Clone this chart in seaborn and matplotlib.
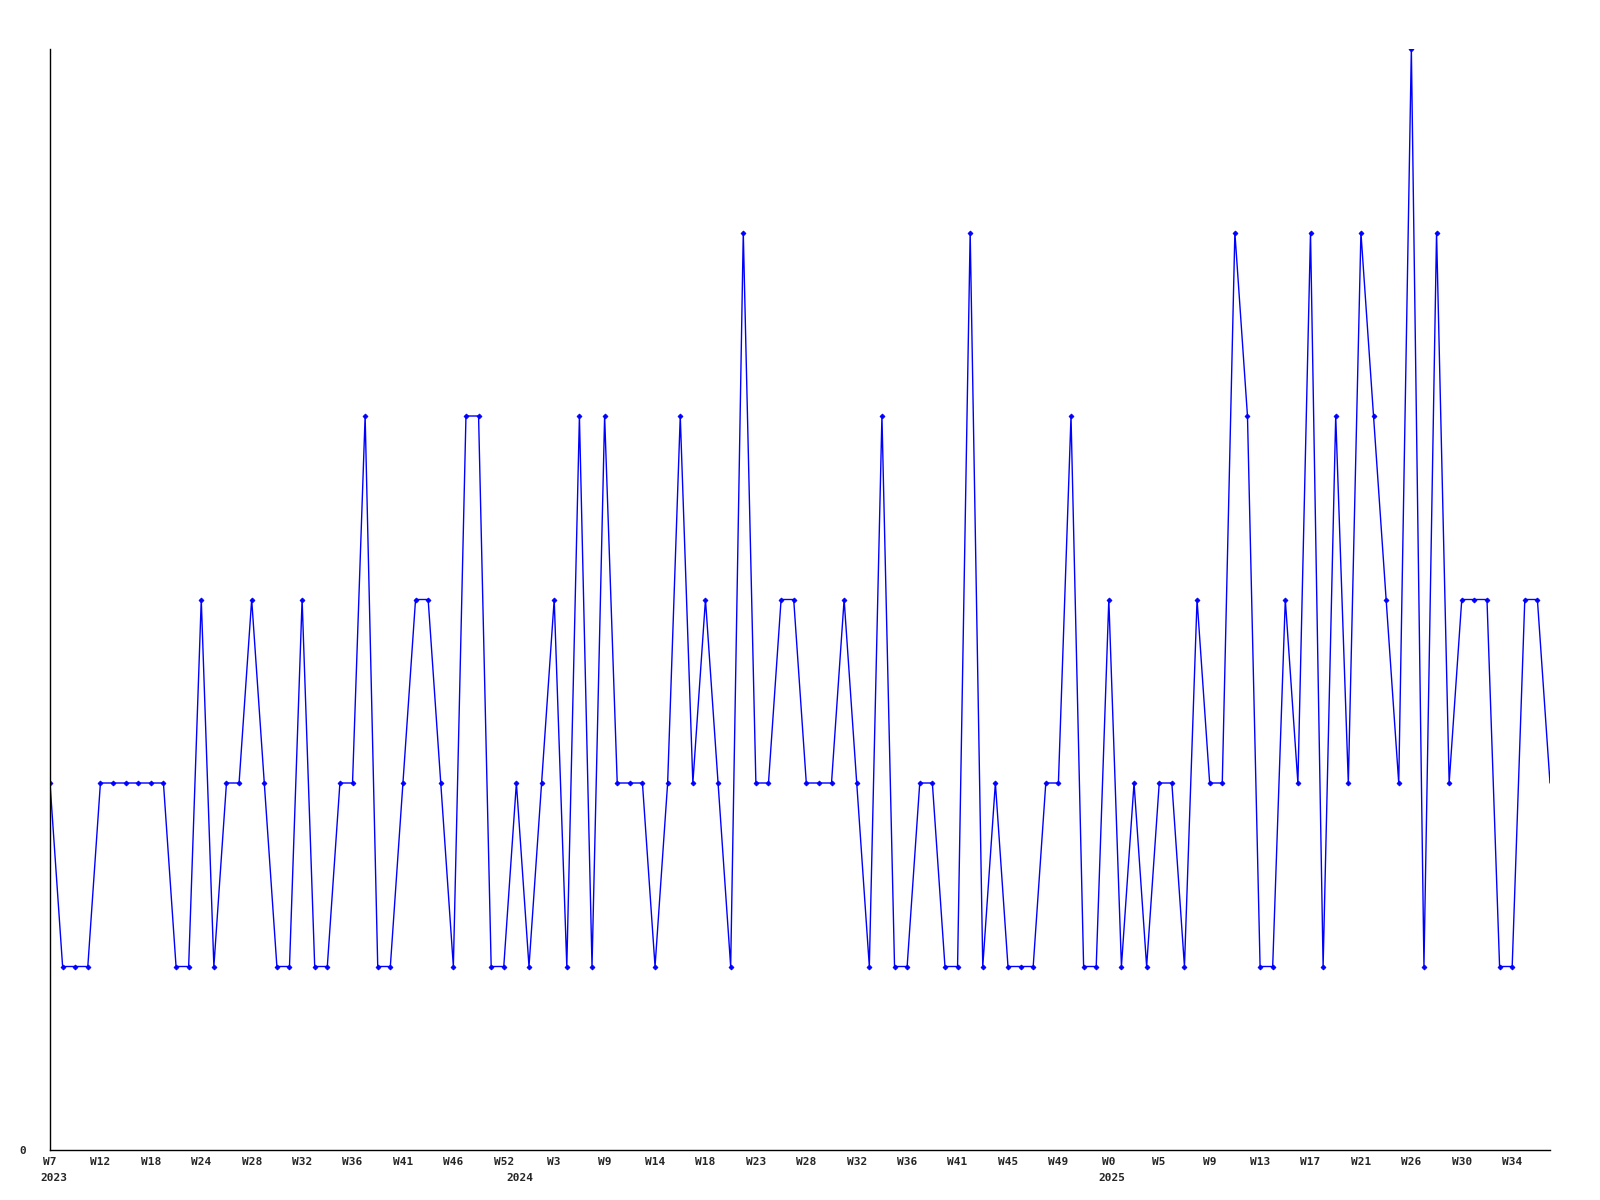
import pandas as pd
import numpy as np
import matplotlib
matplotlib.use('Agg')
import matplotlib.pyplot as plt
import matplotlib.transforms as mtransforms
import seaborn as sns

# weekly counts, one per listed week (gaps in week numbers are skipped weeks)
counts = [2, 1, 1, 1, 2, 2, 2, 2, 2, 2,
          1, 1, 3, 1, 2, 2, 3, 2, 1, 1,
          3, 1, 1, 2, 2, 4, 1, 1, 2, 3,
          3, 2, 1, 4, 4, 1, 1, 2, 1, 2,
          3, 1, 4, 1, 4, 2, 2, 2, 1, 2,
          4, 2, 3, 2, 1, 5, 2, 2, 3, 3,
          2, 2, 2, 3, 2, 1, 4, 1, 1, 2,
          2, 1, 1, 5, 1, 2, 1, 1, 1, 2,
          2, 4, 1, 1, 3, 1, 2, 1, 2, 2,
          1, 3, 2, 2, 5, 4, 1, 1, 3, 2,
          5, 1, 4, 2, 5, 4, 3, 2, 6, 1,
          5, 2, 3, 3, 3, 1, 1, 3, 3, 2]

# label shown on every 4th week
week_labels = ['W7', 'W12', 'W18', 'W24', 'W28', 'W32', 'W36', 'W41', 'W46', 'W52',
               'W3', 'W9', 'W14', 'W18', 'W23', 'W28', 'W32', 'W36', 'W41', 'W45',
               'W49', 'W0', 'W5', 'W9', 'W13', 'W17', 'W21', 'W26', 'W30', 'W34']

years = ['2023', '2024', '2025']
year_start = [0, 37, 84]

df = pd.DataFrame({'idx': np.arange(len(counts)), 'count': counts})

sns.set_style('white')
plt.rcParams['font.family'] = ['DejaVu Sans Mono']

fig = plt.figure(figsize=(16, 12), dpi=100)
ax = fig.add_axes([50 / 1600, 1 - 1150 / 1200, 1500 / 1600, 1101 / 1200])

sns.lineplot(data=df, x='idx', y='count', ax=ax, color='#0000ff', linewidth=1,
             marker='D', markersize=2.5, markeredgewidth=0.6, markeredgecolor='#0000ff',
             markevery=list(range(len(counts) - 1)))

ax.set_xlim(0, len(counts) - 1)
ax.set_ylim(0, 6)
ax.set_xlabel('')
ax.set_ylabel('')

ax.set_xticks(np.arange(0, len(counts), 4))
ax.set_xticklabels(week_labels, fontsize=8, fontweight='bold')
ax.set_yticks([0])
ax.set_yticklabels(['0'], fontsize=8, fontweight='bold')
ax.tick_params(axis='x', length=0, pad=5)
ax.tick_params(axis='y', length=0, pad=17)

# year text starts a little left of its first week
trans = mtransforms.offset_copy(ax.get_xaxis_transform(), fig=fig, x=-10, y=0, units='dots')
for yr, pos in zip(years, year_start):
    ax.text(pos, -0.021, yr, transform=trans, ha='left', va='top',
            fontsize=8, fontweight='bold')

sns.despine(ax=ax)
for side in ['left', 'bottom']:
    ax.spines[side].set_color('black')
    ax.spines[side].set_linewidth(1)

fig.savefig('out.png', dpi=100)
